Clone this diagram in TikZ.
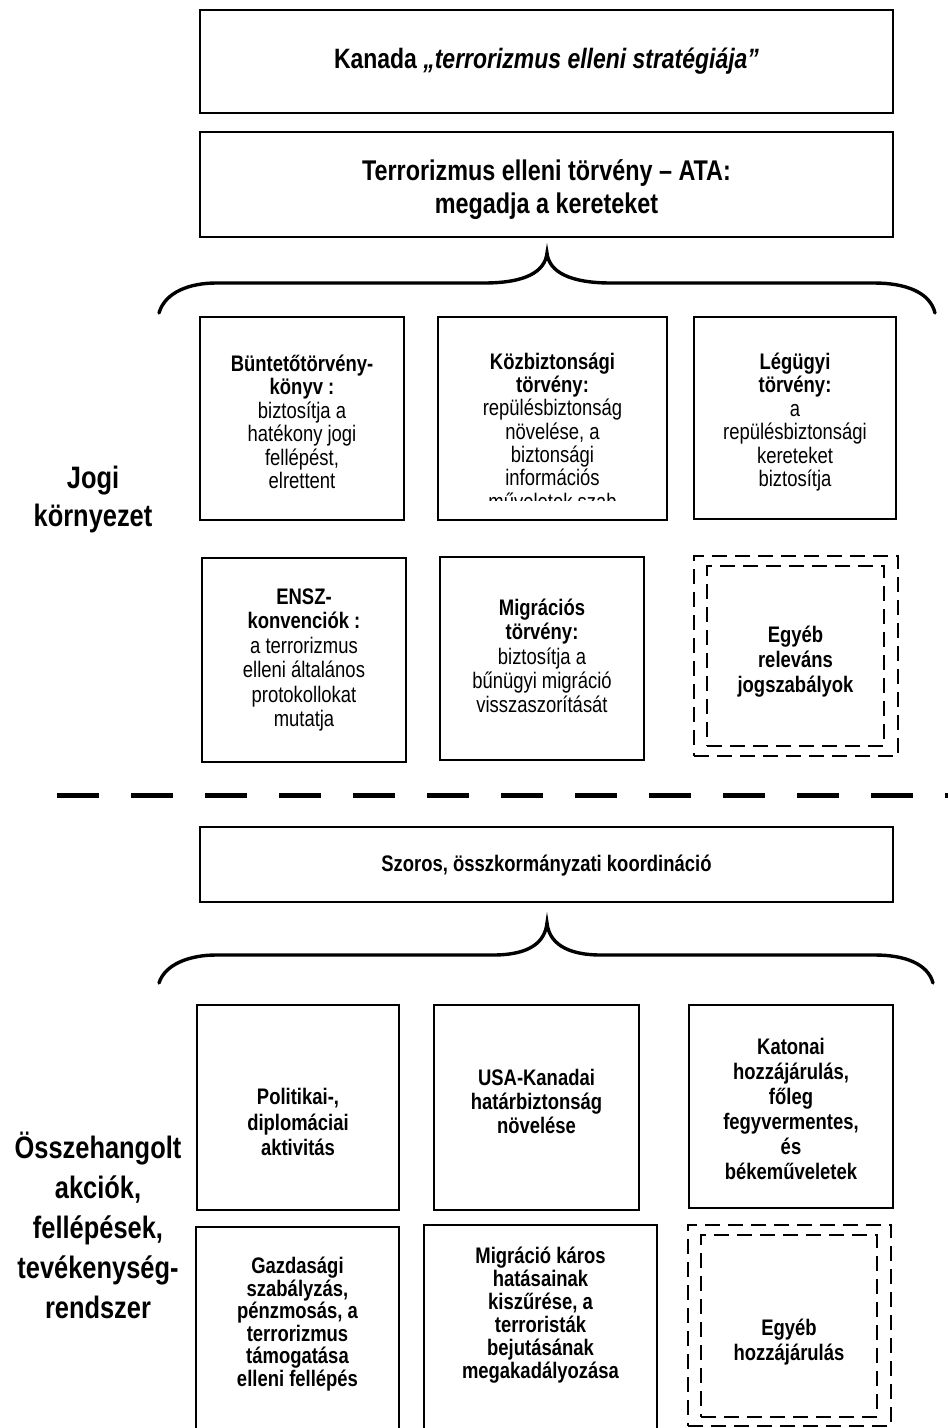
\documentclass[tikz,border=0pt]{standalone}
\usepackage{fontspec}
\setmainfont{Liberation Sans}[FakeStretch=0.82]
\usetikzlibrary{fit}
\begin{document}
\begin{tikzpicture}[x=1pt,y=-1pt,
 box/.style={draw, line width=1.4pt, inner sep=0pt, outer sep=0pt},
 dbox/.style={draw, line width=2.4pt, dash pattern=on 15pt off 8pt, inner sep=0pt, outer sep=0pt},
 txt/.style={align=center, inner sep=0pt, font=\fontsize{22.5}{#1}\selectfont},
 txt/.default=24,
 txtb/.style={align=center, inner sep=0pt, font=\fontsize{22.5}{#1}\selectfont\bfseries},
 txtb/.default=24,
 lbl/.style={align=center, inner sep=0pt, font=\fontsize{31}{#1}\selectfont\bfseries},
 brace/.style={line width=3.4pt, line cap=round},
 sepline/.style={line width=5pt, dash pattern=on 42pt off 32pt},
]
\useasboundingbox (0,0) rectangle (948,1428);
\clip (0,0) rectangle (948,1428);

% top boxes
\node[box, fit={(200,10) (893,113)}] (top1) {};
\node[font=\fontsize{28}{32}\selectfont\bfseries, inner sep=0pt] (top1t) at (546.5,61) {Kanada \textit{„terrorizmus elleni stratégiája”}};
\node[box, fit={(200,132) (893,237)}] (top2) {};
\node[align=center, inner sep=0pt, font=\fontsize{28.5}{33}\selectfont\bfseries] (top2t) at (546.5,190) {Terrorizmus elleni törvény – ATA:\\megadja a kereteket};

% brace 1
\draw[brace] (159,313) .. controls (165,292) and (190,283) .. (216,283) -- (484,283)
  .. controls (525,283) and (545,272) .. (547,253)
  .. controls (549,272) and (570,283) .. (611,283) -- (874,283)
  .. controls (905,283) and (930,292) .. (935,313);

% row 1
\node[box, fit={(200,317) (404,520)}] (A) {};
\node[txt=23.5] (At) at (302,422) {\textbf{Büntetőtörvény-}\\\textbf{könyv :}\\biztosítja a\\hatékony jogi\\fellépést,\\elrettent};
\node[box, fit={(438,317) (667,520)}] (B) {};
\begin{scope}
\clip (438,317) rectangle (667,500);
\node[txt=23.3] (Bt) at (552.5,431) {\textbf{Közbiztonsági}\\\textbf{törvény:}\\repülésbiztonság\\növelése, a\\biztonsági\\információs\\műveletek szab};
\end{scope}
\node[box, fit={(694,317) (896,519)}] (C) {};
\node[txt=23.5] (Ct) at (795,422) {\textbf{Légügyi}\\\textbf{törvény:}\\a\\repülésbiztonsági\\kereteket\\biztosítja};

\node[lbl=38] (jogi) at (93,499) {Jogi\\környezet};

% row 2
\node[box, fit={(202,558) (406,762)}] (D) {};
\node[txt=24.5] (Dt) at (304,660) {\textbf{ENSZ-}\\\textbf{konvenciók :}\\a terrorizmus\\elleni általános\\protokollokat\\mutatja};
\node[box, fit={(440,557) (644,760)}] (E) {};
\node[txt=24.3] (Et) at (542,656) {\textbf{Migrációs}\\\textbf{törvény:}\\biztosítja a\\bűnügyi migráció\\visszaszorítását};
\node[dbox, fit={(694,556) (898,756)}] (F) {};
\node[dbox, fit={(707,566) (884,746)}] (Fi) {};
\node[txtb=25] (Ft) at (795.5,662) {Egyéb\\releváns\\jogszabályok};

% separator
\coordinate (sepL) at (57,795);
\coordinate (sepR) at (960,795);
\draw[sepline] (sepL) -- (sepR);

% coordination box
\node[box, fit={(200,827) (893,902)}] (coord) {};
\node[txtb] (coordt) at (546.5,866) {Szoros, összkormányzati koordináció};

% brace 2
\draw[brace] (159,983) .. controls (165,964) and (190,955) .. (216,955) -- (493,955)
  .. controls (530,955) and (545,942) .. (547,923)
  .. controls (549,942) and (565,955) .. (601,955) -- (875,955)
  .. controls (905,955) and (928,964) .. (933,983);

% row 3
\node[box, fit={(197,1005) (399,1210)}] (G) {};
\node[txtb=25.5] (Gt) at (298,1122) {Politikai-,\\diplomáciai\\aktivitás};
\node[box, fit={(434,1005) (639,1210)}] (H) {};
\node[txtb=24] (Ht) at (536.5,1101) {USA-Kanadai\\határbiztonság\\növelése};
\node[box, fit={(689,1005) (893,1208)}] (I) {};
\node[txtb=25] (It) at (791,1109) {Katonai\\hozzájárulás,\\főleg\\fegyvermentes,\\és\\békeműveletek};

\node[lbl=40] (oss) at (98,1225) {Összehangolt\\akciók,\\fellépések,\\tevékenység-\\rendszer};

% row 4
\node[box, fit={(196,1227) (399,1450)}] (J) {};
\node[txtb=22.5] (Jt) at (297.5,1324) {Gazdasági\\szabályzás,\\pénzmosás, a\\terrorizmus\\támogatása\\elleni fellépés};
\node[box, fit={(424,1225) (657,1450)}] (K) {};
\node[txtb=23] (Kt) at (540.5,1315) {Migráció káros\\hatásainak\\kiszűrése, a\\terroristák\\bejutásának\\megakadályozása};
\node[dbox, fit={(688,1225) (891,1426)}] (L) {};
\node[dbox, fit={(701,1235) (877,1417)}] (Li) {};
\node[txtb=25] (Lt) at (789,1342) {Egyéb\\hozzájárulás};
\end{tikzpicture}
\end{document}
